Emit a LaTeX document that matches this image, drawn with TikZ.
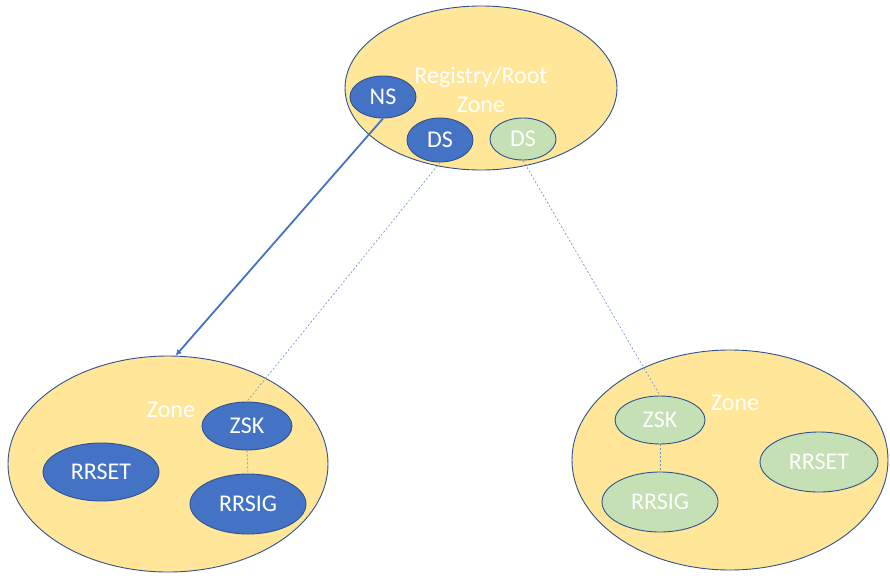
\documentclass[tikz,border=0pt]{standalone}
\usepackage{fontspec}
\setmainfont{Carlito}
\usetikzlibrary{shapes.geometric,arrows.meta}

\definecolor{zonefill}{HTML}{FFE699}
\definecolor{edgeblue}{HTML}{2F528F}
\definecolor{keyblue}{HTML}{4472C4}
\definecolor{keygreen}{HTML}{C5E0B4}

\tikzset{
    zone/.style={ellipse, draw=edgeblue, line width=0.9pt, fill=zonefill, inner sep=0pt},
    rec/.style={ellipse, draw=edgeblue, line width=0.9pt, inner sep=0pt,
        text=white, font=\fontsize{24}{28}\selectfont},
    signed/.style={rec, fill=keyblue},
    unsigned/.style={rec, fill=keygreen},
    label/.style={text=white, font=\fontsize{24}{29}\selectfont, align=center},
    trust/.style={draw=keyblue!80, line width=0.6pt, dash pattern=on 2pt off 2pt},
}

\begin{document}
\begin{tikzpicture}[x=1pt, y=-1pt]
    \useasboundingbox (0,0) rectangle (890,578);

    % registry / root zone
    \node[zone, minimum width=272pt, minimum height=164pt] (root) at (481,88) {};
    \node[label] (rootname) at (481,90) {Registry/Root\\Zone};
    \node[signed, minimum width=66pt, minimum height=42pt] (ns) at (383,97) {NS};
    \node[signed, minimum width=66pt, minimum height=44pt] (dsa) at (440,140) {DS};
    \node[unsigned, minimum width=66pt, minimum height=42pt] (dsb) at (523,139) {DS};

    % signed child zone
    \node[zone, minimum width=320pt, minimum height=216pt] (zonea) at (168,464) {};
    \node[label] (zoneaname) at (171,410) {Zone};
    \node[signed, minimum width=90pt, minimum height=48pt] (zska) at (247,426) {ZSK};
    \node[signed, minimum width=116pt, minimum height=58pt] (rrseta) at (101,472) {RRSET};
    \node[signed, minimum width=116pt, minimum height=60pt] (rrsiga) at (248,504) {RRSIG};

    % second child zone
    \node[zone, minimum width=316pt, minimum height=220pt] (zoneb) at (730,460) {};
    \node[label] (zonebname) at (735,403) {Zone};
    \node[unsigned, minimum width=90pt, minimum height=48pt] (zskb) at (660,420) {ZSK};
    \node[unsigned, minimum width=116pt, minimum height=60pt] (rrsigb) at (660,502) {RRSIG};
    \node[unsigned, minimum width=118pt, minimum height=60pt] (rrsetb) at (819,462) {RRSET};

    % delegation
    \draw[keyblue, line width=1.8pt, -{Latex[length=6pt,width=6pt]}]
        (ns.south) -- (zonea.86);

    % DS to key, key to signature
    \draw[trust] (dsa.south) -- (zska.north);
    \draw[trust] (dsb.south) -- (zskb.north);
    \draw[trust] (zska.south) -- (rrsiga.north);
    \draw[trust] (zskb.south) -- (rrsigb.north);
\end{tikzpicture}
\end{document}
